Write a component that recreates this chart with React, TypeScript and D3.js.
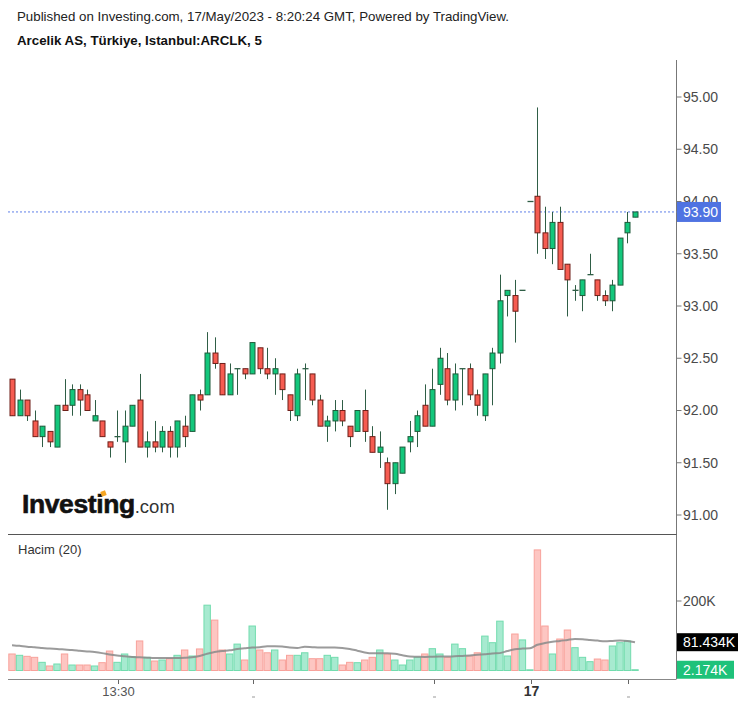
import React from "react"
import * as d3 from "d3"

// 5-minute candles, ARCLK, 16-17 May 2023
const opens = [
  92.3, 91.95, 92.1, 91.9, 91.75, 91.8, 91.65, 92.05, 92.05, 92.2, 92.15, 91.9, 91.9, 91.7, 91.75, 91.7, 91.85, 92.1, 91.65, 91.7,
  91.65, 91.8, 91.65, 91.85, 91.8, 92.15, 92.15, 92.55, 92.45, 92.15, 92.4, 92.4, 92.35, 92.6, 92.4, 92.35, 92.35, 92.15, 91.95, 92.4,
  92.35, 92.1, 91.85, 91.9, 92.0, 91.85, 91.8, 92.0, 91.75, 91.6, 91.5, 91.3, 91.4, 91.7, 91.8, 92.05, 91.85, 92.25, 92.4, 92.1,
  92.4, 92.4, 92.15, 91.95, 92.4, 92.55, 93.1, 93.1, 93.15, 94.0, 94.05, 93.7, 93.55, 93.8, 93.4, 93.15, 93.1, 93.3, 93.25, 93.1,
  93.05, 93.2, 93.7, 93.85,
]
const highs = [
  92.3, 92.2, 92.1, 92.0, 91.85, 91.8, 92.05, 92.3, 92.25, 92.25, 92.2, 92.1, 91.9, 91.7, 92.0, 92.0, 92.05, 92.35, 91.8, 91.9,
  91.85, 91.85, 91.9, 91.95, 92.15, 92.2, 92.75, 92.7, 92.45, 92.45, 92.4, 92.4, 92.65, 92.6, 92.6, 92.5, 92.35, 92.15, 92.4, 92.45,
  92.35, 92.15, 91.95, 92.1, 92.1, 91.85, 92.0, 92.2, 91.85, 91.8, 91.55, 91.5, 91.65, 91.9, 92.0, 92.25, 92.4, 92.6, 92.55, 92.45,
  92.4, 92.45, 92.2, 92.35, 92.6, 93.3, 93.15, 93.25, 93.15, 94.0, 94.9, 93.95, 93.9, 93.95, 93.4, 93.2, 93.25, 93.5, 93.25, 93.15,
  93.25, 93.65, 93.9, 93.9,
]
const lows = [
  91.95, 91.95, 91.9, 91.75, 91.65, 91.65, 91.65, 92.0, 91.95, 91.95, 92.0, 91.9, 91.75, 91.55, 91.7, 91.5, 91.85, 91.65, 91.55, 91.6,
  91.6, 91.55, 91.55, 91.65, 91.8, 92.0, 92.15, 92.4, 92.15, 92.15, 92.15, 92.3, 92.35, 92.35, 92.3, 92.15, 92.1, 91.9, 91.9, 92.1,
  92.05, 91.85, 91.7, 91.8, 91.85, 91.65, 91.8, 91.7, 91.6, 91.45, 91.05, 91.2, 91.4, 91.6, 91.65, 91.85, 91.85, 92.15, 92.05, 92.0,
  92.05, 92.1, 91.95, 91.9, 92.05, 92.45, 92.9, 92.65, 93.15, 94.0, 93.5, 93.45, 93.4, 93.35, 92.9, 93.05, 92.95, 93.3, 93.05, 93.0,
  92.95, 93.2, 93.6, 93.85,
]
const closes = [
  91.95, 92.1, 91.95, 91.75, 91.85, 91.7, 92.05, 92.0, 92.2, 92.1, 92.0, 91.95, 91.75, 91.65, 91.75, 91.85, 92.05, 91.65, 91.7, 91.65,
  91.8, 91.65, 91.9, 91.75, 92.15, 92.1, 92.55, 92.45, 92.15, 92.35, 92.4, 92.35, 92.65, 92.4, 92.35, 92.4, 92.2, 92.0, 92.35, 92.4,
  92.1, 91.85, 91.9, 92.0, 91.9, 91.75, 92.0, 91.8, 91.6, 91.65, 91.3, 91.5, 91.65, 91.75, 91.95, 91.85, 92.2, 92.5, 92.1, 92.35,
  92.4, 92.15, 92.05, 92.35, 92.55, 93.05, 93.15, 92.95, 93.15, 94.0, 93.7, 93.55, 93.8, 93.35, 93.25, 93.15, 93.25, 93.3, 93.1, 93.05,
  93.2, 93.65, 93.8, 93.9,
]
// volume in thousands
const volumes = [
  47.5, 43.7, 40.8, 37.9, 23.5, 13, 18.7, 47.5, 15.8, 15.8, 15.8, 13, 22.5, 56, 23.5, 47.5, 39.8, 85, 37.9, 27.3,
  30.2, 34, 43.7, 59, 41.7, 62, 188, 145, 59, 47.5, 76, 30.2, 128, 59, 51, 59, 30.2, 43.7, 43.7, 51,
  34, 34, 43.7, 37.9, 15.8, 23.5, 22.5, 30.2, 37.9, 59, 47.5, 30.2, 15.8, 30.2, 37.9, 47.5, 62.8, 47.5, 37.9, 76,
  62.8, 41.7, 51, 99, 80, 142, 41.7, 105, 88, 2, 347, 128, 47.5, 90.6, 116.5, 65.7, 37.9, 25.4, 33, 30.2,
  70.5, 80, 85, 2.174,
]
// Hacim (20) moving average, thousands
const volumeMA = [
  73, 71, 68.5, 67, 65, 63, 62, 60.5, 59, 57, 55, 53, 50, 46, 43, 41, 39, 38, 37, 36,
  36, 36, 36, 36.5, 38, 42, 48, 53, 56, 58, 62, 64, 66, 67, 70, 70, 69, 66, 65, 68,
  67, 66, 66, 66, 65, 62, 57, 52, 49.5, 49.5, 49.5, 48, 44, 40, 39.5, 39, 39.7, 40, 40, 41,
  42, 43, 45, 47, 49, 50, 56, 61, 63, 64, 74, 79, 83, 85, 88, 90.6, 90, 88, 86, 84,
  85, 86, 85, 81.434,
]
const priceTicks = [91, 91.5, 92, 92.5, 93, 93.5, 94, 94.5, 95]
const timeTicks = [
  { idx: 14.15, label: "13:30", bold: false },
  { idx: 32.1, label: "", bold: false },
  { idx: 56.2, label: "", bold: false },
  { idx: 69.1, label: "17", bold: true },
  { idx: 82.1, label: "", bold: false },
]
const lastPrice = 93.9
const lastVolume = 2.174
const lastMA = 81.434

const W = 747
const H = 707
const LEFT = 8
const AXIS_X = 676.5
const font = "'Liberation Sans', Arial, sans-serif"

const UP = "#13c77c"
const UP_BORDER = "#1f5a3a"
const DOWN = "#f65c51"
const DOWN_BORDER = "#6e1f19"
const WICK = "#2f5e46"

export default function App() {
  const n = closes.length
  const x = d3.scaleLinear().domain([0, n - 1]).range([12, 635])
  const y = d3.scaleLinear().domain([91, 95]).range([515, 97])
  const yv = d3.scaleLinear().domain([0, 200]).range([670.5, 601])

  const maLine = d3
    .line<number>()
    .x((_, i) => x(i))
    .y((d) => yv(d))
    .curve(d3.curveMonotoneX)

  return (
    <svg width={W} height={H} style={{ position: "absolute", left: 0, top: 0, background: "#fff" }} fontFamily={font}>
      <rect width={W} height={H} fill="#fff" />
      {/* header */}
      <text x={17} y={21} fontSize={13.3} fill="#222">
        Published on Investing.com, 17/May/2023 - 8:20:24 GMT, Powered by TradingView.
      </text>
      <text x={17} y={45} fontSize={13.3} fontWeight="bold" fill="#111">
        Arcelik AS, Türkiye, Istanbul:ARCLK, 5
      </text>

      {/* frame lines */}
      <line x1={AXIS_X} x2={AXIS_X} y1={60} y2={679} stroke="#777" />
      <line x1={LEFT} x2={AXIS_X} y1={534.5} y2={534.5} stroke="#555" />
      <line x1={LEFT} x2={AXIS_X} y1={679.5} y2={679.5} stroke="#888" />

      {/* price axis */}
      {priceTicks.map((p) => (
        <g key={p}>
          <line x1={AXIS_X} x2={AXIS_X + 5} y1={y(p)} y2={y(p)} stroke="#777" />
          <text x={683} y={y(p)} dy="0.35em" fontSize={14} fill="#4a4a4a">
            {p.toFixed(2)}
          </text>
        </g>
      ))}

      {/* logo */}
      <text x={22} y={513} fontSize={26.5} fontWeight="bold" fill="#111" letterSpacing={-0.4} stroke="#111" strokeWidth={0.6}>
        Investing
        <tspan fontSize={18.5} fontWeight="normal" fill="#333" letterSpacing={0} stroke="none">
          .com
        </tspan>
      </text>
      <rect x={101} y={491} width={5} height={5} fill="#f5a623" transform="rotate(-20 103.5 493.5)" />

      {/* last price line */}
      <line x1={LEFT} x2={AXIS_X} y1={y(lastPrice)} y2={y(lastPrice)} stroke="#5f7fe8" strokeDasharray="2,2" />

      {/* candles */}
      {closes.map((c, i) => {
        const o = opens[i]
        const up = c >= o
        const cx = Math.round(x(i)) + 0.5
        const top = y(Math.max(o, c))
        const bot = y(Math.min(o, c))
        return (
          <g key={i}>
            <line x1={cx} x2={cx} y1={y(highs[i])} y2={y(lows[i])} stroke={WICK} strokeWidth={1} />
            {bot - top < 1.5 ? (
              <line x1={cx - 3} x2={cx + 3} y1={top} y2={top} stroke={WICK} strokeWidth={1.3} />
            ) : (
              <rect
                x={cx - 2.5}
                y={top}
                width={5}
                height={bot - top}
                fill={up ? UP : DOWN}
                stroke={up ? UP_BORDER : DOWN_BORDER}
                strokeWidth={1}
              />
            )}
          </g>
        )
      })}

      {/* volume pane */}
      <text x={18} y={554} fontSize={13} fill="#333">
        Hacim (20)
      </text>
      {volumes.map((v, i) => {
        const up = closes[i] >= opens[i]
        return (
          <rect
            key={i}
            x={x(i) - 3.2}
            y={yv(v)}
            width={6.4}
            height={Math.max(0, yv(0) - yv(v))}
            fill={up ? "#a7ead0" : "#fdc6c2"}
            stroke={up ? "#72dcae" : "#f8a29b"}
            strokeWidth={1}
          />
        )
      })}
      <path d={maLine(volumeMA) ?? ""} fill="none" stroke="#8a8a8a" strokeWidth={2} strokeOpacity={0.85} />

      <line x1={AXIS_X} x2={AXIS_X + 5} y1={yv(200)} y2={yv(200)} stroke="#777" />
      <text x={683} y={yv(200)} dy="0.35em" fontSize={14} fill="#4a4a4a">
        200K
      </text>

      {/* last price label */}
      <rect x={AXIS_X + 0.5} y={y(lastPrice) - 10} width={44} height={20} fill="#4f73e2" />
      <text x={683} y={y(lastPrice)} dy="0.35em" fontSize={14} fill="#fff">
        {lastPrice.toFixed(2)}
      </text>

      {/* volume MA label */}
      <rect x={AXIS_X + 0.5} y={yv(lastMA) - 9} width={61} height={18} fill="#000" />
      <text x={683} y={yv(lastMA)} dy="0.35em" fontSize={14} fill="#fff">
        {lastMA.toFixed(3)}K
      </text>
      {/* last volume label */}
      <rect x={AXIS_X + 0.5} y={yv(lastVolume) - 9} width={57} height={18} fill="#1ec27a" />
      <text x={683} y={yv(lastVolume)} dy="0.35em" fontSize={14} fill="#fff">
        {lastVolume.toFixed(3)}K
      </text>

      {/* time axis */}
      {timeTicks.map((t) => {
        const tx = Math.round(x(t.idx)) + 0.5
        return (
          <g key={t.idx}>
            <line x1={tx} x2={tx} y1={680} y2={684} stroke="#666" />
            {t.label ? (
              <text x={tx} y={696} textAnchor="middle" fontSize={t.bold ? 14 : 13} fontWeight={t.bold ? "bold" : "normal"} fill={t.bold ? "#333" : "#555"}>
                {t.label}
              </text>
            ) : (
              <line x1={tx - 1.5} x2={tx + 1.5} y1={697} y2={697} stroke="#999" />
            )}
          </g>
        )
      })}
    </svg>
  )
}
